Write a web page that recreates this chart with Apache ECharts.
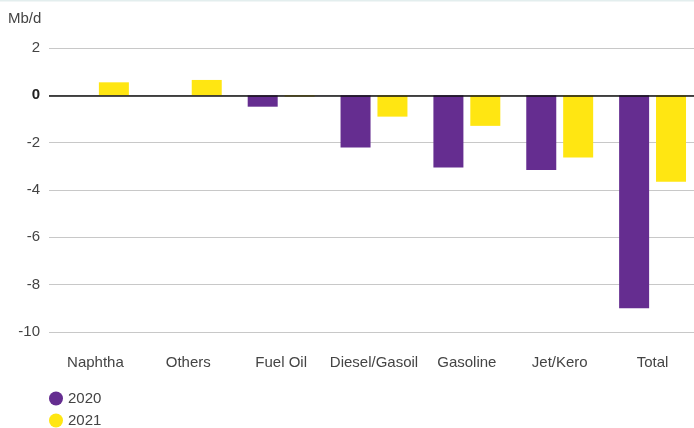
<!DOCTYPE html>
<html><head><meta charset="utf-8">
<script src="https://cdn.jsdelivr.net/npm/echarts@6/dist/echarts.min.js"></script>
<style>html,body{margin:0;padding:0;background:#fff}#c{width:694px;height:428px}</style>
</head><body><div id="c"></div>
<script>
const categories = ["Naphtha","Others","Fuel Oil","Diesel/Gasoil","Gasoline","Jet/Kero","Total"];
const values2020 = [0, 0, -0.48, -2.2, -3.05, -3.15, -9.0];
const values2021 = [0.55, 0.65, -0.05, -0.9, -1.29, -2.63, -3.65];
const seriesNames = ["2020","2021"];
const yTicks = {min:-10, max:2, interval:2};

const chart = echarts.init(document.getElementById('c'), null, {renderer:'canvas'});
const font = "Liberation Sans";
const legendCommon = {orient:'vertical', left:44, itemWidth:14, itemHeight:14, icon:'circle',
    textStyle:{fontSize:15, color:'#444', fontFamily:font}};
chart.setOption({
  animation:false,
  textStyle:{fontFamily:font},
  graphic:[
    {type:'rect', shape:{x:0,y:0,width:694,height:1.5}, style:{fill:'#e3eeee'}},
    {type:'text', left:8, top:11, style:{text:'Mb/d', font:'15px "Liberation Sans"', fill:'#444'}}
  ],
  grid:{left:49, width:650, top:48, bottom:96, outerBoundsMode:'none', containLabel:false},
  legend:[
    Object.assign({top:386, data:[seriesNames[0]]}, legendCommon),
    Object.assign({top:408, data:[seriesNames[1]]}, legendCommon)
  ],
  xAxis:{type:'category', data:categories, axisLine:{show:false}, axisTick:{show:false},
    axisLabel:{fontSize:15, color:'#444', margin:23, fontFamily:font, interval:0}},
  yAxis:{type:'value', min:yTicks.min, max:yTicks.max, interval:yTicks.interval,
    axisLine:{show:false}, axisTick:{show:false},
    splitLine:{lineStyle:{color:'#c8c8c8', width:1}},
    axisLabel:{fontSize:15, color:'#444', margin:9, fontFamily:font,
      formatter:v=> v===0 ? '{b|0}' : String(v),
      rich:{b:{fontWeight:'bold', fontSize:15, color:'#222', fontFamily:font}}}},
  series:[
    {name:seriesNames[0], type:'bar', data:values2020, barWidth:30, barGap:'23%', itemStyle:{color:'#652d90'},
      markLine:{silent:true, symbol:'none', label:{show:false}, lineStyle:{color:'#111', width:1.5, type:'solid'}, data:[{yAxis:0}]}},
    {name:seriesNames[1], type:'bar', data:values2021, barWidth:30, barGap:'23%', itemStyle:{color:'#ffe612'}}
  ]
});
</script></body></html>
